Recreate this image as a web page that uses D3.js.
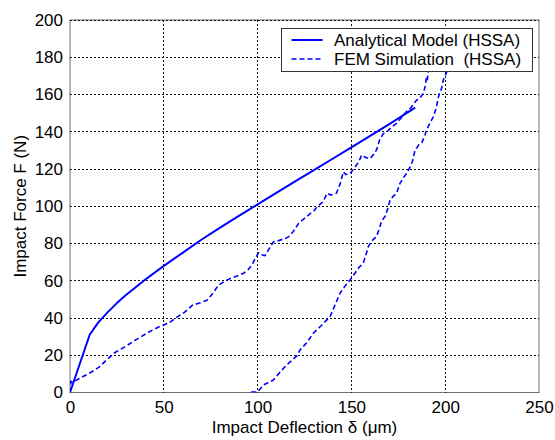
<!DOCTYPE html>
<html>
<head>
<meta charset="utf-8">
<script src="https://cdn.jsdelivr.net/npm/d3@7"></script>
<style>
  body { margin: 0; background: #fff; }
  svg { font-family: "Liberation Sans", Arial, sans-serif; }
</style>
</head>
<body>
<div id="chart"></div>
<script>
// tick values
var xTicks = [0, 50, 100, 150, 200, 250];
var yTicks = [0, 20, 40, 60, 80, 100, 120, 140, 160, 180, 200];

// analytical model (HSSA)
var analyticX = [0, 10.5, 15, 20, 25, 30, 35, 40, 50, 60, 70, 80, 90, 100, 110, 120, 130, 140, 150, 160, 170, 184];
var analyticF = [0, 31, 37.5, 43, 48, 52.5, 56.5, 60.5, 68, 75, 82, 88.5, 94.8, 101, 107.2, 113.3, 119.4, 125.5, 131.6, 137.8, 144, 153];

// FEM simulation (HSSA): loading then unloading
var femX = [0, 0.5, 1.5, 5, 11.5, 16, 20, 24, 30, 35.5, 42, 48, 53, 57, 61, 65.5, 69, 73, 76, 79, 82, 85, 89, 92.5, 95, 97, 99, 100.5, 102, 104, 106, 108.5, 111, 115.5, 117, 119, 122, 125, 128, 130, 132, 135, 137, 139, 142, 144, 145.7, 147, 149.3, 151.9, 154, 155.5, 158, 160, 162, 163.5, 165, 167, 169, 171, 174, 177, 179.5, 181, 182.5, 184.8, 186, 188.3, 189.5, 190, 190.5, 191, 192, 194, 196, 197,
            199, 201, 202, 200.8, 199, 198, 197, 196, 195.4, 193.7, 192, 190.1, 189, 187.5, 186, 183.9, 182.5, 181.2, 180, 179.5, 177.5, 175.9, 174.1, 172, 170.6, 169.5, 167.9, 166, 165.2, 163.5, 161, 159, 157.5, 156.3, 153.5, 151.9, 149.3, 146.5, 143.9, 141.5, 138.6, 134, 129.7, 126, 122.6, 120.8, 118, 115.5, 112, 108.4, 105, 103, 101, 100, 96];
var femF = [0, 6, 5.5, 7.5, 11, 14, 18, 21.5, 25, 28.5, 32.5, 35.5, 37.5, 40.5, 43, 47, 48, 49.5, 53, 57.5, 59.5, 61, 62.5, 64, 66, 68.5, 72.5, 75, 74, 73.5, 77, 81, 81.5, 83, 84, 86.5, 91, 93.5, 96, 97.5, 100, 102.5, 107, 106, 107, 112, 118.5, 117, 117.5, 121, 124, 127.5, 126, 125.5, 128, 130.5, 135.5, 139, 140, 142, 144.5, 148, 151, 152, 154, 157, 157.5, 160.5, 165, 169.5, 168, 173, 178, 183, 187, 188,
            186, 180, 176, 172, 167.8, 163, 161, 157, 153.5, 148, 145, 141, 137.5, 134, 133, 130, 124, 121, 118.5, 117.7, 115, 112.3, 107, 105, 103.4, 99, 94.5, 92, 89, 84, 81.5, 78.3, 73, 69.5, 66.5, 64, 60.4, 57, 53.3, 47.5, 40.7, 36, 31.8, 26.5, 22.8, 19.5, 17, 14.8, 11, 6.7, 5, 4, 1.5, 0.3, 0.3];

var legendLabels = ["Analytical Model (HSSA)", "FEM Simulation  (HSSA)"];

var W = 555, H = 440;
var margin = { top: 20, left: 70, right: 16, bottom: 47.5 };
var width = W - margin.left - margin.right;
var height = H - margin.top - margin.bottom;
var blue = "#0000ff";

var svg = d3.select("#chart").append("svg")
  .attr("width", W)
  .attr("height", H);

var plot = svg.append("g")
  .attr("transform", "translate(" + margin.left + "," + margin.top + ")");

var x = d3.scaleLinear().domain([0, 250]).range([0, width]);
var y = d3.scaleLinear().domain([0, 200]).range([height, 0]);

svg.append("defs").append("clipPath").attr("id", "clip")
  .append("rect").attr("width", width).attr("height", height);

// frame
plot.append("rect")
  .attr("width", width)
  .attr("height", height)
  .attr("fill", "none")
  .attr("stroke", "#6e6e6e")
  .attr("stroke-width", 1);

// grid
plot.append("g").attr("class", "x-grid")
  .selectAll("line")
  .data(xTicks.filter(function(d) { return d > 0 && d < 250; }))
  .enter().append("line")
  .attr("x1", function(d) { return x(d); })
  .attr("x2", function(d) { return x(d); })
  .attr("y1", 0).attr("y2", height);

plot.append("g").attr("class", "y-grid")
  .selectAll("line")
  .data(yTicks.filter(function(d) { return d > 0; }))
  .enter().append("line")
  .attr("x1", 0).attr("x2", width)
  .attr("y1", function(d) { return y(d); })
  .attr("y2", function(d) { return y(d); });

plot.selectAll(".x-grid line, .y-grid line")
  .attr("stroke", "#111")
  .attr("stroke-width", 1)
  .attr("stroke-dasharray", "2,2")
  .attr("shape-rendering", "crispEdges");

// axes (labels only)
var xAxis = d3.axisBottom(x).tickValues(xTicks).tickSize(0).tickPadding(8);
var yAxis = d3.axisLeft(y).tickValues(yTicks).tickSize(0).tickPadding(7);

plot.append("g").attr("class", "x-axis")
  .attr("transform", "translate(0," + height + ")")
  .call(xAxis);
plot.append("g").attr("class", "y-axis")
  .call(yAxis);

plot.selectAll(".domain").remove();
plot.selectAll(".x-axis text, .y-axis text")
  .attr("font-family", "'Liberation Sans', Arial, sans-serif")
  .attr("font-size", "17px")
  .attr("fill", "#000");

// lines
var lines = plot.append("g").attr("clip-path", "url(#clip)");

var line = d3.line()
  .x(function(d) { return x(d[0]); })
  .y(function(d) { return y(d[1]); });

lines.append("path")
  .attr("d", line(femX.map(function(v, i) { return [v, femF[i]]; })))
  .attr("fill", "none")
  .attr("stroke", blue)
  .attr("stroke-width", 1.6)
  .attr("stroke-dasharray", "5,3")
  .attr("stroke-linejoin", "round");

lines.append("path")
  .attr("d", line(analyticX.map(function(v, i) { return [v, analyticF[i]]; })))
  .attr("fill", "none")
  .attr("stroke", blue)
  .attr("stroke-width", 2)
  .attr("stroke-linejoin", "round");

// axis titles
svg.append("text")
  .attr("x", margin.left + width / 2)
  .attr("y", 433)
  .attr("text-anchor", "middle")
  .attr("font-size", "17px")
  .text("Impact Deflection \u03b4 (\u03bcm)");

svg.append("text")
  .attr("transform", "translate(26," + (margin.top + height / 2) + ") rotate(-90)")
  .attr("text-anchor", "middle")
  .attr("font-size", "17px")
  .text("Impact Force F (N)");

// legend
var legend = svg.append("g").attr("transform", "translate(281.5,28.5)");
legend.append("rect")
  .attr("width", 251)
  .attr("height", 43)
  .attr("fill", "#fff")
  .attr("stroke", "#333")
  .attr("stroke-width", 1);

var rows = legend.selectAll(".row")
  .data(legendLabels)
  .enter().append("g")
  .attr("transform", function(d, i) { return "translate(0," + (11.5 + i * 19) + ")"; });

rows.append("line")
  .attr("x1", 10).attr("x2", 41)
  .attr("y1", 0).attr("y2", 0)
  .attr("stroke", blue)
  .attr("stroke-width", function(d, i) { return i === 0 ? 2 : 1.6; })
  .attr("stroke-dasharray", function(d, i) { return i === 0 ? null : "5,3"; });

rows.append("text")
  .attr("x", 52.5)
  .attr("dy", "0.36em")
  .attr("font-size", "17px")
  .style("white-space", "pre")
  .text(function(d) { return d; });
</script>
</body>
</html>
